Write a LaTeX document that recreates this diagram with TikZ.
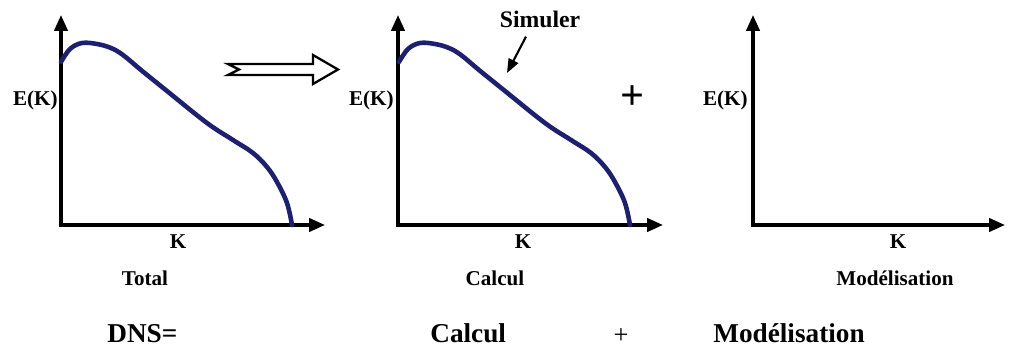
\documentclass[tikz,border=0pt]{standalone}
\usepackage{fontspec}
\setmainfont{Liberation Serif}
\usepackage{xcolor}
\usetikzlibrary{arrows.meta, positioning}

\definecolor{curveblue}{RGB}{28,32,112}

\tikzset{
    axes/.style={line width=1.9pt, {Triangle[length=9pt,width=7.5pt]}-{Triangle[length=9pt,width=7.5pt]}},
    spectrum/.style={curveblue, line width=2.6pt, line cap=round, line join=round},
    lab/.style={font=\fontsize{12}{14}\selectfont\bfseries, inner sep=0pt},
    biglab/.style={font=\fontsize{15.5}{18}\selectfont\bfseries, inner sep=0pt},
}

% energy spectrum curve, drawn in pixel units from the axis origin
\newcommand{\ekcurve}{%
    \draw[spectrum] plot[smooth, tension=0.6] coordinates {
        (0,-163) (9,-176) (21,-182) (36,-181) (50,-177) (62,-170)
        (80,-155) (106,-134) (146,-102) (172,-85) (192,-72) (206,-58)
        (216,-43) (226,-22) (231,0)};
}

\begin{document}
\begin{tikzpicture}[x=0.02cm, y=-0.02cm]
    \useasboundingbox (0,0) rectangle (1009,352);

    % Panel 1: total
    \draw[axes] (61,15) |- (325,225);
    \begin{scope}[shift={(61,225)}]
        \ekcurve
    \end{scope}
    \node[lab, anchor=base east] (ek1) at (58,105) {E(K)};
    \node[lab, anchor=base] (k1) at (178,248) {K};
    \node[lab, anchor=base] (total) at (145,285) {Total};

    % Hollow arrow
    \draw[line width=1.3pt, line join=miter]
        (228,64) -- (313,64) -- (313,55) -- (338,69.5) -- (313,84)
        -- (313,75) -- (228,75) -- (239,69.5) -- cycle;

    % Panel 2: calcul
    \draw[axes] (398,15) |- (663,225);
    \begin{scope}[shift={(399,225)}]
        \ekcurve
    \end{scope}
    \node[lab, anchor=base east] (ek2) at (394,105) {E(K)};
    \node[lab, anchor=base] (k2) at (523,248) {K};
    \node[lab, anchor=base] (calc) at (495,285) {Calcul};
    \node[lab, font=\fontsize{13.5}{15}\selectfont\bfseries, anchor=base] (sim) at (540,27) {Simuler};
    \coordinate (simtip) at (507,73);
    \draw[line width=1.2pt, -{Triangle[length=8pt,width=6pt]}] (sim.south) ++(-14,9) -- (simtip);
    \node[font=\fontsize{24}{26}\selectfont\bfseries, inner sep=0pt] (plus1) at (633,98) {+};

    % Panel 3: modelisation
    \draw[axes] (753,15) |- (1005,225);
    \node[lab, anchor=base east] (ek3) at (748,105) {E(K)};
    \node[lab, anchor=base] (k3) at (898,248) {K};
    \node[lab, anchor=base] (model) at (895,285) {Modélisation};

    % Bottom line
    \node[biglab, anchor=base west] (dns) at (107,342) {DNS=};
    \node[biglab, anchor=base west] (calcb) at (430,342) {Calcul};
    \node[font=\fontsize{15}{17}\selectfont, inner sep=0pt] (plusb) at (621,336) {+};
    \node[biglab, anchor=base west] (modelb) at (713,342) {Modélisation};
\end{tikzpicture}
\end{document}
